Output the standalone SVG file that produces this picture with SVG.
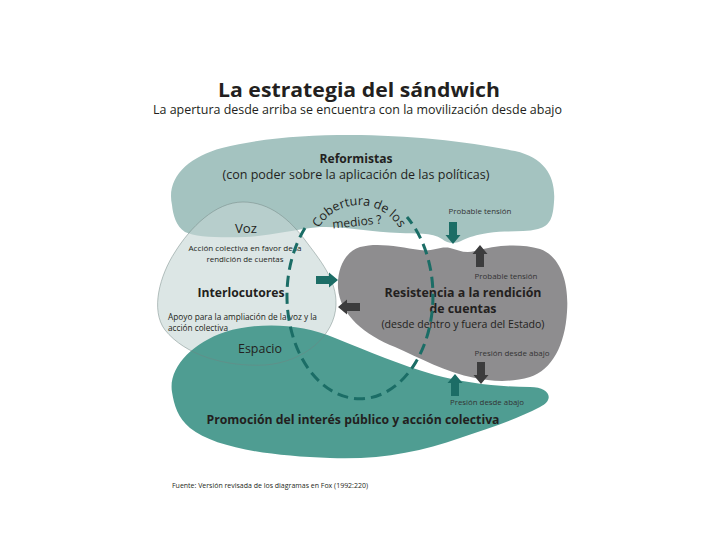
<svg xmlns="http://www.w3.org/2000/svg" xmlns:xlink="http://www.w3.org/1999/xlink" width="720" height="540" viewBox="0 0 720 540">
<style>
text{font-family:"Open Sans","Liberation Sans",sans-serif;fill:#231f20}
.b{font-weight:bold}
.m{text-anchor:middle}
.sm{font-size:8px;fill:#333}
.teal{fill:#1c6d66}
.dark{fill:#3c3c3d}
</style>
<defs>
<path id="arr" d="M-4,-22 H4 V-9 H7.5 L0,0 L-7.5,-9 H-4 Z"/>
<path id="arcText" d="M313.6,240 A47,47 0 0 1 404.4,240"/>
</defs>
<rect width="720" height="540" fill="#ffffff"/>

<g id="title">
<text class="b m" x="359" y="97" font-size="19" textLength="282" lengthAdjust="spacingAndGlyphs" fill="#333">La estrategia del sándwich</text>
<text class="m" x="357.5" y="114" font-size="12.5" textLength="409" lengthAdjust="spacingAndGlyphs" fill="#333">La apertura desde arriba se encuentra con la movilización desde abajo</text>
</g>

<g id="reformistas">
<path d="M172,205 C166,178 188,157 222,148 C262,138 305,135 350,135 C410,135 470,142 515,151 C546,158 556,178 554,202 C553,216 551,226 538,229 C522,233 505,230 488,233 C476,235 469,237 463,240 C456,244 448,244 442,239 C432,232 415,234 400,233 C370,232 345,226 320,227 C290,230 270,236 245,237 C220,238 195,237 185,232 C176,226 173,215 172,205 Z" fill="#a4c3c0"/>
<text class="b m" x="356" y="163" font-size="12.5" textLength="73" lengthAdjust="spacingAndGlyphs">Reformistas</text>
<text class="m" x="356" y="179" font-size="12.5" textLength="267" lengthAdjust="spacingAndGlyphs">(con poder sobre la aplicación de las políticas)</text>
</g>

<g id="interlocutores">
<path d="M243,202 C270,202 290,220 305,240 C320,260 337,280 336,305 C335,335 305,362 265,365 C225,367 185,355 165,330 C150,310 160,275 175,252 C190,228 215,202 243,202 Z" fill="#c5d5d4" fill-opacity="0.6"/>
</g>

<g id="promocion">
<path d="M172,392 C168,368 192,343 225,332 C258,322 300,323 335,338 C370,352 400,365 435,375 C465,383 500,387 530,387 C550,387 555,400 540,407 C515,420 490,428 460,438 C420,452 380,460 330,458 C270,456 215,448 190,428 C178,418 174,405 172,392 Z" fill="#4f9d92"/>
<text class="b m" x="353" y="424" font-size="13" textLength="293" lengthAdjust="spacingAndGlyphs">Promoción del interés público y acción colectiva</text>
</g>

<g id="interlocutores-labels">
<path d="M243,202 C270,202 290,220 305,240 C320,260 337,280 336,305 C335,335 305,362 265,365 C225,367 185,355 165,330 C150,310 160,275 175,252 C190,228 215,202 243,202 Z" fill="none" stroke="#6f8280" stroke-width="0.6" stroke-opacity="0.8"/>
<text class="m" x="246" y="233" font-size="13" textLength="22" lengthAdjust="spacingAndGlyphs">Voz</text>
<text class="m" x="245" y="251" font-size="8" textLength="113" lengthAdjust="spacingAndGlyphs">Acción colectiva en favor de la</text>
<text class="m" x="245" y="262" font-size="8" textLength="77" lengthAdjust="spacingAndGlyphs">rendición de cuentas</text>
<text class="b m" x="241" y="297" font-size="12.5" textLength="87" lengthAdjust="spacingAndGlyphs">Interlocutores</text>
<text x="168" y="320" font-size="8.5" textLength="149" lengthAdjust="spacingAndGlyphs">Apoyo para la ampliación de la voz y la</text>
<text x="168" y="331" font-size="8.5" textLength="60" lengthAdjust="spacingAndGlyphs">acción colectiva</text>
<text class="m" x="260" y="353" font-size="13" textLength="44" lengthAdjust="spacingAndGlyphs">Espacio</text>
</g>

<g id="resistencia">
<path d="M338,288 C337,268 345,252 360,247 C378,242 400,247 420,250 C432,252 440,246 450,248 C458,250 465,254 475,251 C495,245 520,243 540,249 C562,257 569,285 567,312 C565,345 552,370 530,377 C510,383 490,381 475,378 C445,372 420,358 395,347 C365,335 340,315 338,288 Z" fill="#8e8d8f"/>
<text class="b m" x="463" y="297" font-size="12.5" textLength="157" lengthAdjust="spacingAndGlyphs">Resistencia a la rendición</text>
<text class="b m" x="463" y="313" font-size="12.5" textLength="67" lengthAdjust="spacingAndGlyphs">de cuentas</text>
<text class="m" x="463" y="328" font-size="11" textLength="163" lengthAdjust="spacingAndGlyphs">(desde dentro y fuera del Estado)</text>
</g>

<g id="connectors">
<path d="M305,228 A73,103 0 1 0 407,217" fill="none" stroke="#1b6d66" stroke-width="3" stroke-dasharray="11 6"/>
<use xlink:href="#arr" class="teal" transform="translate(453,244)"/>
<use xlink:href="#arr" class="dark" transform="translate(480,245) rotate(180)"/>
<use xlink:href="#arr" class="teal" transform="translate(338,280) rotate(-90)"/>
<use xlink:href="#arr" class="dark" transform="translate(338,307) rotate(90)"/>
<use xlink:href="#arr" class="dark" transform="translate(481,384)"/>
<use xlink:href="#arr" class="teal" transform="translate(455,374) rotate(180)"/>
</g>

<g id="labels">
<text font-size="12.5" fill="#231f20"><textPath xlink:href="#arcText" startOffset="50%" text-anchor="middle">Cobertura de los</textPath></text>
<text class="m" x="357" y="226" font-size="12" transform="rotate(-6 357 222)">medios ?</text>
<text class="m sm" x="480" y="214" textLength="63" lengthAdjust="spacingAndGlyphs">Probable tensión</text>
<text class="m sm" x="506" y="279" textLength="63" lengthAdjust="spacingAndGlyphs">Probable tensión</text>
<text class="m sm" x="512" y="356" textLength="75" lengthAdjust="spacingAndGlyphs">Presión desde abajo</text>
<text class="m sm" x="487" y="405" textLength="74" lengthAdjust="spacingAndGlyphs">Presión desde abajo</text>
</g>

<g id="source">
<text x="172" y="488" font-size="7" fill="#444" textLength="196" lengthAdjust="spacingAndGlyphs">Fuente: Versión revisada de los diagramas en Fox (1992:220)</text>
</g>
</svg>
